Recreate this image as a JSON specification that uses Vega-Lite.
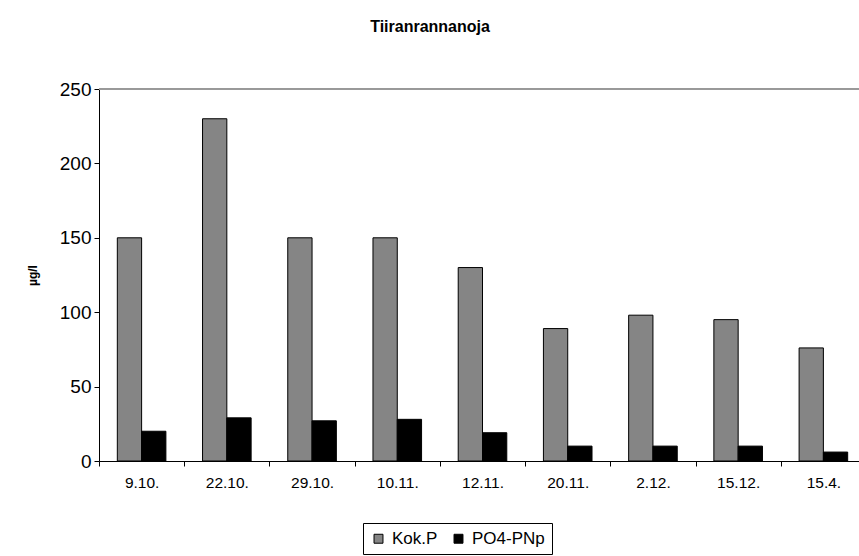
{
  "$schema": "https://vega.github.io/schema/vega-lite/v6.json",
  "width": 760,
  "height": 372,
  "autosize": {"type": "none"},
  "padding": {"left": 99, "top": 89, "right": 0, "bottom": 95},
  "background": "white",
  "config": {
    "font": "Liberation Sans",
    "view": {"stroke": null},
    "axis": {"grid": false, "domainColor": "black", "tickColor": "black", "labelColor": "black", "titleColor": "black"}
  },
  "title": {
    "text": "Tiiranrannanoja",
    "fontSize": 16,
    "fontWeight": "bold",
    "font": "Liberation Sans",
    "color": "black",
    "anchor": "middle",
    "baseline": "alphabetic",
    "offset": 32,
    "dx": -49
  },
  "data": {
    "values": [
      {"pvm": "9.10.", "sarja": "Kok.P", "arvo": 150},
      {"pvm": "9.10.", "sarja": "PO4-PNp", "arvo": 20},
      {"pvm": "22.10.", "sarja": "Kok.P", "arvo": 230},
      {"pvm": "22.10.", "sarja": "PO4-PNp", "arvo": 29},
      {"pvm": "29.10.", "sarja": "Kok.P", "arvo": 150},
      {"pvm": "29.10.", "sarja": "PO4-PNp", "arvo": 27},
      {"pvm": "10.11.", "sarja": "Kok.P", "arvo": 150},
      {"pvm": "10.11.", "sarja": "PO4-PNp", "arvo": 28},
      {"pvm": "12.11.", "sarja": "Kok.P", "arvo": 130},
      {"pvm": "12.11.", "sarja": "PO4-PNp", "arvo": 19},
      {"pvm": "20.11.", "sarja": "Kok.P", "arvo": 89},
      {"pvm": "20.11.", "sarja": "PO4-PNp", "arvo": 10},
      {"pvm": "2.12.", "sarja": "Kok.P", "arvo": 98},
      {"pvm": "2.12.", "sarja": "PO4-PNp", "arvo": 10},
      {"pvm": "15.12.", "sarja": "Kok.P", "arvo": 95},
      {"pvm": "15.12.", "sarja": "PO4-PNp", "arvo": 10},
      {"pvm": "15.4.", "sarja": "Kok.P", "arvo": 76},
      {"pvm": "15.4.", "sarja": "PO4-PNp", "arvo": 6}
    ]
  },
  "layer": [
    {
      "mark": {"type": "rule", "color": "#999999", "strokeWidth": 1},
      "encoding": {"y": {"datum": 250, "type": "quantitative"}}
    },
    {
      "mark": {"type": "bar", "stroke": "black", "strokeWidth": 1},
      "encoding": {
        "x": {
          "field": "pvm",
          "type": "nominal",
          "sort": null,
          "scale": {"range": [0, 767], "paddingInner": 0, "paddingOuter": 0},
          "axis": {
            "title": null,
            "labelAngle": 0,
            "labelFontSize": 15.5,
            "labelPadding": 9,
            "tickSize": 5,
            "tickBand": "extent",
            "domainWidth": 1
          }
        },
        "xOffset": {
          "field": "sarja",
          "type": "nominal",
          "sort": ["Kok.P", "PO4-PNp"],
          "scale": {"paddingInner": 0, "paddingOuter": 0.754}
        },
        "y": {
          "field": "arvo",
          "type": "quantitative",
          "scale": {"domain": [0, 250], "nice": false},
          "axis": {
            "title": "µg/l",
            "titleFontSize": 12,
            "titleFontWeight": "bold",
            "titlePadding": 20,
            "values": [0, 50, 100, 150, 200, 250],
            "labelFontSize": 19,
            "labelPadding": 3,
            "tickSize": 5
          }
        },
        "color": {
          "field": "sarja",
          "type": "nominal",
          "scale": {"domain": ["Kok.P", "PO4-PNp"], "range": ["#858585", "#000000"]},
          "legend": {
            "title": null,
            "orient": "none",
            "direction": "horizontal",
            "legendX": 264,
            "legendY": 434,
            "strokeColor": "black",
            "fillColor": "white",
            "padding": 7,
            "symbolType": "square",
            "symbolSize": 80,
            "symbolStrokeColor": "black",
            "symbolStrokeWidth": 1,
            "labelFontSize": 17,
            "labelColor": "black",
            "columnPadding": 12,
            "labelOffset": 5
          }
        }
      }
    }
  ]
}
